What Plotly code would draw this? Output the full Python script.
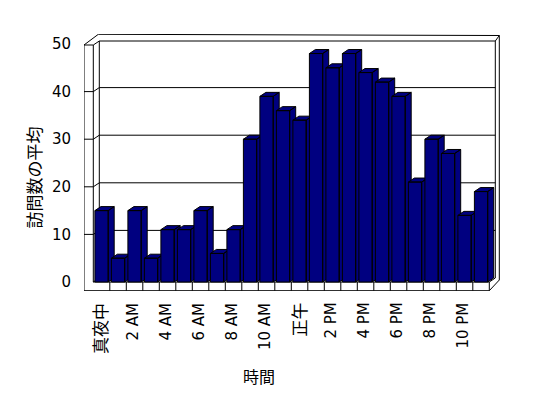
import plotly.graph_objects as go

# ---- data ----
hours = ["真夜中", "1 AM", "2 AM", "3 AM", "4 AM", "5 AM", "6 AM", "7 AM", "8 AM", "9 AM", "10 AM", "11 AM",
         "正午", "1 PM", "2 PM", "3 PM", "4 PM", "5 PM", "6 PM", "7 PM", "8 PM", "9 PM", "10 PM", "11 PM"]
visits = [15, 5, 15, 5, 11, 11, 15, 6, 11, 30, 39, 36, 34, 48, 45, 48, 44, 42, 39, 21, 30, 27, 14, 19]
tick_labels = ["真夜中", "2 AM", "4 AM", "6 AM", "8 AM", "10 AM", "正午", "2 PM", "4 PM", "6 PM", "8 PM", "10 PM"]
y_ticks = [0, 10, 20, 30, 40, 50]
x_title = "時間"
y_title = "訪問数の平均"

# ---- geometry (pixel calibration of the 3-D look) ----
W, H = 548, 398
PL, PR, PT, PB = 84, 500, 34, 291
CX0, CXU = 101.55, 16.5      # px of category 0 centre, px per category
CY0, CYU = 282.0, 4.76       # px of value 0, px per value unit


def ux(px):
    return (px - CX0) / CXU


def uy(py):
    return (CY0 - py) / CYU


HW = 6.65 / CXU          # half bar width
DX = 6.0 / CXU           # depth offset in x
DY = 4.0 / CYU           # depth offset in y
NAVY = "#000080"
LATIN = "DejaVu Sans, Noto Sans CJK JP"
CJK = "Noto Sans CJK JP"

xpos = list(range(len(hours)))
fig = go.Figure()

for i, v in zip(xpos, visits):
    l, r = i - HW, i + HW
    xs = [l, r, r, l, l, None,
          r, r + DX, r + DX, r, r, None,
          l, l + DX, r + DX, r, l]
    ys = [0, 0, v, v, 0, None,
          0, DY, v + DY, v, 0, None,
          v, v + DY, v + DY, v, v]
    fig.add_trace(go.Scatter(x=xs, y=ys, mode="lines", fill="toself",
                             fillcolor=NAVY, line=dict(color="black", width=1),
                             hoverinfo="skip", showlegend=False))

# ---- frame (walls / floor) ----
xWo, xL, xR = ux(84), -0.5, len(hours) - 0.5
yFb, yTop = uy(290.7), uy(45)
OTL = (ux(98.3), uy(34.3))
OTR = (ux(499.3), uy(35.5))
OBR = (ux(499.3), uy(280))

segs = [
    ((xWo, yFb), (xWo, yTop)),
    ((xL, 0), (xL, yTop)),
    ((xWo, yTop), (xL, yTop)),
    ((xWo, yTop), OTL),
    ((xL, yTop), (xL + DX, yTop + DY)),
    ((xL + DX, yTop + DY), (xR + DX, yTop + DY)),
    (OTL, OTR),
    ((xR + DX, yTop + DY), OTR),
    ((xR + DX, DY), (xR + DX, yTop + DY)),
    (OTR, OBR),
    ((xR, yFb), OBR),
    ((xR, 0), (xR + DX, DY)),
    ((xWo, yFb), (xR, yFb)),
    ((xL, 0), (xR, 0)),
    ((xR, yFb), (xR, 0)),
    ((xL + DX, DY), (xL + DX, yTop + DY)),
    ((xL, 0), (xL + DX, DY)),
]
for k in range(1, len(hours)):
    segs.append(((k - 0.5, yFb), (k - 0.5, 0)))
for v in y_ticks[1:-1]:
    segs.append(((xWo, v), (xL, v)))
    segs.append(((xL, v), (xL + DX, v + DY)))
    segs.append(((xL + DX, v + DY), (xR + DX, v + DY)))

shapes = [dict(type="line", xref="x", yref="y", x0=a[0], y0=a[1], x1=b[0], y1=b[1],
               line=dict(color="black", width=1), layer="below") for a, b in segs]

# category tick labels (rotated, top-aligned under the floor)
annotations = []
for xv, t in zip(xpos[::2], tick_labels):
    cjk = any(ord(c) > 0x2E80 for c in t)
    annotations.append(dict(
        text=t, x=xv, xref="x", y=(PB - 301) / (PB - PT), yref="paper",
        textangle=-90, showarrow=False, xanchor="center", yanchor="top", xshift=-2,
        font=dict(family=CJK if cjk else LATIN, size=17 if cjk else 15, color="black")))

annotations += [
    dict(text=y_title, textangle=-90, xref="paper", yref="paper",
         x=(33 - PL) / (PR - PL), y=(PB - 177.5) / (PB - PT), showarrow=False,
         font=dict(family=CJK, size=17), xanchor="center", yanchor="middle"),
    dict(text=x_title, xref="paper", yref="paper",
         x=(259 - PL) / (PR - PL), y=(PB - 376) / (PB - PT), showarrow=False,
         font=dict(family=CJK, size=16), xanchor="center", yanchor="middle"),
]

fig.update_layout(
    width=W, height=H,
    margin=dict(l=PL, r=W - PR, t=PT, b=H - PB, pad=0),
    paper_bgcolor="white", plot_bgcolor="white",
    font=dict(family=LATIN, size=15, color="black"),
    shapes=shapes,
    xaxis=dict(range=[ux(PL), ux(PR)], showgrid=False, zeroline=False, showline=False,
               tickmode="array", tickvals=xpos[::2], ticktext=tick_labels,
               showticklabels=False, ticks="", fixedrange=True),
    yaxis=dict(range=[uy(PB), uy(PT)], showgrid=False, zeroline=False, showline=False,
               tickmode="array", tickvals=y_ticks, ticks="", ticklabelstandoff=12,
               fixedrange=True),
    annotations=annotations,
)

fig.write_html("out.html")
